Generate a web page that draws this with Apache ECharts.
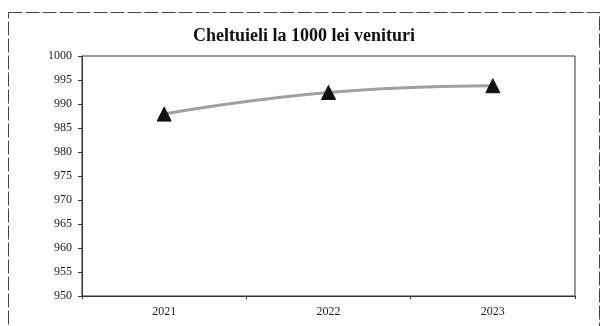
<!DOCTYPE html>
<html>
<head>
<meta charset="utf-8">
<script src="https://cdn.jsdelivr.net/npm/echarts@6/dist/echarts.min.js"></script>
<style>
  html, body { margin: 0; padding: 0; background: #fff; }
  #chart { width: 608px; height: 326px; }
</style>
</head>
<body>
<div id="chart"></div>
<script>
const years = ['2021', '2022', '2023']
const cheltuieli = [987.9, 992.4, 993.8]

const chart = echarts.init(document.getElementById('chart'))
const serif = '"Liberation Serif", "DejaVu Serif", serif'

chart.setOption({
  backgroundColor: '#fff',
  animation: false,
  title: {
    text: 'Cheltuieli la 1000 lei venituri',
    left: 'center',
    top: 22,
    textStyle: {
      fontFamily: serif,
      fontSize: 18,
      fontWeight: 'bold',
      color: '#111'
    }
  },
  // outer chart frame (dashed, like the scanned border)
  graphic: [{
    type: 'rect',
    shape: { x: 8.5, y: 12.5, width: 591, height: 330 },
    style: { fill: 'none', stroke: '#444', lineWidth: 1, lineDash: [14, 3] },
    silent: true
  }],
  grid: {
    left: 82,
    right: 33,
    top: 56,
    bottom: 30,
    show: true,
    borderColor: '#333',
    borderWidth: 1
  },
  xAxis: {
    type: 'category',
    data: years,
    boundaryGap: true,
    axisLine: { lineStyle: { color: '#333', width: 1 } },
    axisTick: { show: true, length: 3, lineStyle: { color: '#333' } },
    axisLabel: {
      fontFamily: serif,
      fontSize: 12,
      color: '#222',
      margin: 10
    },
    splitLine: { show: false }
  },
  yAxis: {
    type: 'value',
    min: 950,
    max: 1000,
    interval: 5,
    axisLine: { show: true, lineStyle: { color: '#333', width: 1 } },
    axisTick: { show: true, length: 4, lineStyle: { color: '#333' } },
    axisLabel: {
      fontFamily: serif,
      fontSize: 12,
      color: '#222',
      margin: 10,
      formatter: v => String(v)
    },
    splitLine: { show: false }
  },
  series: [{
    name: 'Cheltuieli',
    type: 'line',
    data: cheltuieli,
    smooth: true,
    symbol: 'triangle',
    symbolSize: 14,
    itemStyle: { color: '#111', borderColor: '#111' },
    lineStyle: { color: '#a0a0a0', width: 3 }
  }]
})
</script>
</body>
</html>
